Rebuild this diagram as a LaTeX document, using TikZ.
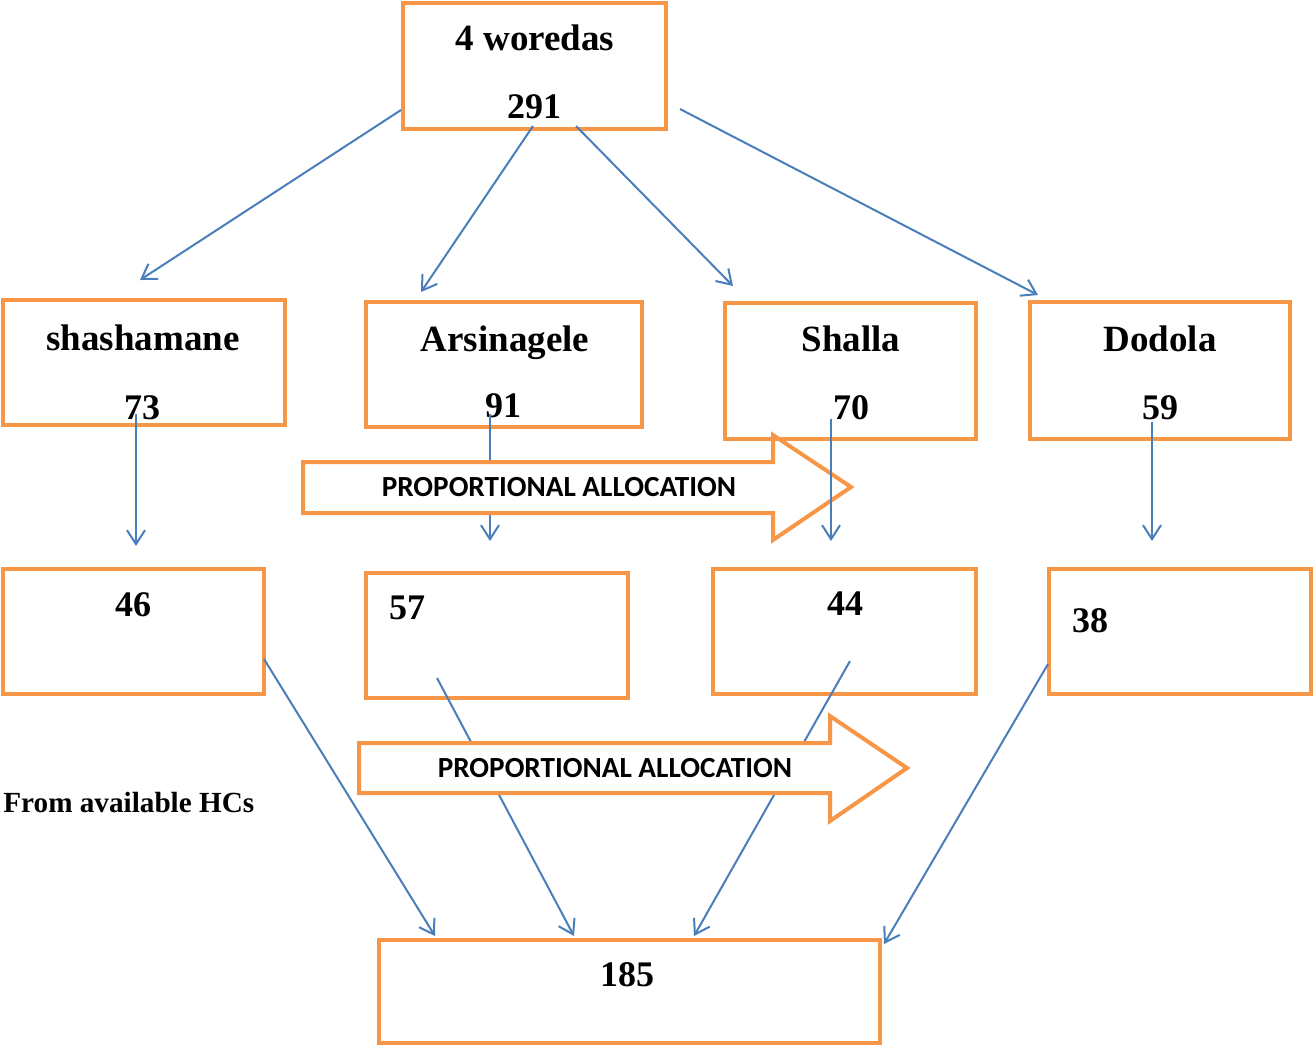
\documentclass[tikz,border=0pt]{standalone}
\usepackage{fontspec}
\setmainfont{Liberation Serif}
\newfontfamily\calibri{Carlito}
\usetikzlibrary{arrows.meta,calc}
\definecolor{boxorange}{HTML}{F79646}
\definecolor{linkblue}{HTML}{4A7EBB}

\begin{document}
\begin{tikzpicture}[x=0.5pt,y=-0.5pt]
    \tikzstyle{box}=[rectangle,draw=boxorange,line width=2pt,inner sep=0pt]
    \tikzstyle{word}=[font=\fontsize{18.5}{20}\selectfont\bfseries,inner sep=0pt,anchor=base]
    \tikzstyle{num}=[font=\fontsize{18}{20}\selectfont\bfseries,inner sep=0pt,anchor=base]
    \tikzstyle{link}=[draw=linkblue,line width=1pt,-{Straight Barb[length=7pt,width=9pt]}]
    \tikzstyle{bigarrow}=[draw=boxorange,line width=2pt,fill=white,line join=miter]
    \tikzstyle{alloc}=[font=\calibri\fontsize{14.6}{16}\selectfont\bfseries,inner sep=0pt,anchor=base]
    \useasboundingbox (0,0) rectangle (1313,1046);

    % woredas
    \node[box,minimum width=131.5pt,minimum height=63pt] (top) at (534.5,66) {};
    \node[box,minimum width=141pt,minimum height=62.5pt] (shash) at (144,362.5) {};
    \node[box,minimum width=138pt,minimum height=62.5pt] (arsi) at (504,364.5) {};
    \node[box,minimum width=130pt,minimum height=68.5pt] (dodola) at (1160,370.5) {};
    % samples
    \node[box,minimum width=130.5pt,minimum height=62.5pt] (s46) at (133.5,631.5) {};
    \node[box,minimum width=131pt,minimum height=62.5pt] (s57) at (497,635.5) {};
    \node[box,minimum width=131.5pt,minimum height=62.5pt] (s44) at (844.5,631.5) {};
    \node[box,minimum width=131pt,minimum height=62.5pt] (s38) at (1180,631.5) {};
    \node[box,minimum width=250.5pt,minimum height=51.5pt] (total) at (629.5,991.5) {};

    \node[word] (topname) at (535,50) {4 woredas};
    \node[num] (topnum) at (534,118) {291};
    \node[word] (shashname) at (143,350) {shashamane};
    \node[num] (shashnum) at (142,419) {73};
    \node[word] (arsiname) at (505,351) {Arsinagele};
    \node[num] (arsinum) at (503,417) {91};
    \node[word] (dodolaname) at (1160,351) {Dodola};
    \node[num] (dodolanum) at (1160,419) {59};
    \node[num] (n46) at (133,616) {46};
    \node[num] (n57) at (407,619) {57};
    \node[num] (n44) at (845,615) {44};
    \node[num] (n38) at (1090,632) {38};
    \node[num] (n185) at (627,986) {185};

    \draw[link] ($(arsi.south)+(-14,-15)$) -- ($(s57.north)+(-7,-30)$);

    % first allocation arrow
    \draw[bigarrow] (303,462) -- (773,462) -- (773,435) -- (851,487) -- (773,540) -- (773,513) -- (303,513) -- cycle;
    \node[alloc] (alloc1) at (559,496) {PROPORTIONAL ALLOCATION};

    \node[box,minimum width=125.5pt,minimum height=68pt] (shalla) at (850.5,371) {};
    \node[word] (shallaname) at (851,351) {Shalla};
    \node[num] (shallanum) at (851,419) {70};

    \draw[link] ($(top.west)+(0,44)$) -- ($(shash.north)+(-4,-18)$);
    \draw[link] ($(top.south)+(-1.5,-5)$) -- ($(arsi.north)+(-83,-8)$);
    \draw[link] ($(top.south)+(41.5,-5)$) -- ($(shalla.north)+(-117.5,-15)$);
    \draw[link] ($(top.east)+(12,43)$) -- ($(dodola.north)+(-122,-5)$);
    \draw[link] ($(shash.south)+(-8,-13)$) -- ($(s46.north)+(2.5,-21)$);
    \draw[link] ($(shalla.south)+(-19.5,-22)$) -- ($(s44.north)+(-13.5,-26)$);
    \draw[link] ($(dodola.south)+(-8,-19)$) -- ($(s38.north)+(-28,-26)$);

    \draw[link] ($(s57.south)+(-60,-22)$) -- ($(total.north)+(-55.5,-2)$);
    \draw[link] ($(s44.south)+(5.5,-35)$) -- ($(total.north)+(64.5,-2)$);

    % second allocation arrow
    \draw[bigarrow] (359,743) -- (830,743) -- (830,716) -- (907,768) -- (830,821) -- (830,793) -- (359,793) -- cycle;
    \node[alloc] (alloc2) at (615,777) {PROPORTIONAL ALLOCATION};

    \draw[link] ($(s46.east)+(-2,27.5)$) -- ($(total.north)+(-194.5,-2)$);
    \draw[link] ($(s38.west)+(1,32.5)$) -- ($(total.north east)+(2,6)$);

    \node[font=\fontsize{14.6}{16}\selectfont\bfseries,inner sep=0pt,anchor=base west] (hcs) at (3,812) {From available HCs};
\end{tikzpicture}
\end{document}
